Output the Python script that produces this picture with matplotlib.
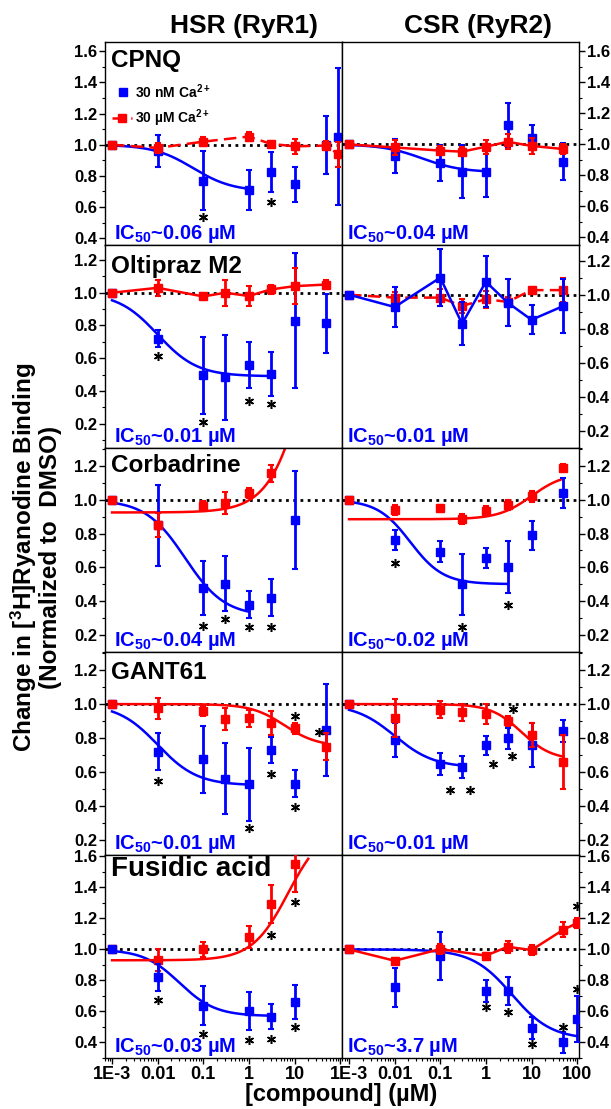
import numpy as np
import matplotlib
matplotlib.use('Agg')
import matplotlib.pyplot as plt
from matplotlib.ticker import LogLocator, FixedLocator, MultipleLocator, NullFormatter, FixedFormatter

plt.rcParams['font.family'] = ['Liberation Sans', 'DejaVu Sans']
plt.rcParams['font.weight'] = 'bold'
plt.rcParams['mathtext.fontset'] = 'custom'
plt.rcParams['mathtext.rm'] = 'Liberation Sans:bold'
plt.rcParams['mathtext.bf'] = 'Liberation Sans:bold'
plt.rcParams['mathtext.it'] = 'Liberation Sans:bold'
plt.rcParams['mathtext.default'] = 'rm'

BLUE = '#0000ff'
RED = '#ff0000'

# ---- data: [compound] (uM), normalized binding, error ----
# CPNQ
cpnq_hsr_x = [0.001, 0.01, 0.1, 1, 3, 10, 50, 90]
cpnq_hsr_blue = [1.0, 0.96, 0.77, 0.71, 0.825, 0.745, 1.0, 1.05]
cpnq_hsr_blue_err = [0, 0.10, 0.19, 0.13, 0.13, 0.11, 0.185, 0.44]
cpnq_hsr_red = [1.0, 0.98, 1.02, 1.053, 1.006, 0.99, 0.995, 0.94]
cpnq_hsr_red_err = [0, 0.03, 0.03, 0.03, 0.02, 0.05, 0.03, 0.08]

cpnq_csr_x = [0.001, 0.01, 0.1, 0.3, 1, 3, 10, 50]
cpnq_csr_blue = [1.0, 0.925, 0.88, 0.823, 0.823, 1.125, 1.043, 0.888]
cpnq_csr_blue_err = [0, 0.11, 0.115, 0.17, 0.16, 0.14, 0.08, 0.12]
cpnq_csr_red = [1.0, 0.98, 0.96, 0.953, 0.985, 1.017, 0.99, 0.97]
cpnq_csr_red_err = [0, 0.05, 0.03, 0.03, 0.045, 0.05, 0.05, 0.03]

# Oltipraz M2
olt_x = [0.001, 0.01, 0.1, 0.3, 1, 3, 10, 50]
olt_hsr_blue = [1.0, 0.72, 0.495, 0.485, 0.56, 0.505, 0.83, 0.815]
olt_hsr_blue_err = [0, 0.05, 0.235, 0.26, 0.14, 0.135, 0.41, 0.18]
olt_hsr_red = [1.0, 1.03, 0.977, 1.0, 0.98, 1.02, 1.04, 1.05]
olt_hsr_red_err = [0, 0.05, 0.02, 0.08, 0.06, 0.03, 0.11, 0.03]

olt_csr_blue = [1.0, 0.928, 1.10, 0.83, 1.076, 0.954, 0.853, 0.934]
olt_csr_blue_err = [0, 0.115, 0.165, 0.125, 0.15, 0.14, 0.085, 0.16]
olt_csr_red = [1.0, 0.983, 0.983, 0.934, 0.974, 0.958, 1.027, 1.027]
olt_csr_red_err = [0, 0.03, 0.05, 0.04, 0.05, 0.03, 0.02, 0.07]

# Corbadrine
corb_hsr_blue_x = [0.001, 0.01, 0.1, 0.3, 1, 3, 10]
corb_hsr_blue = [1.0, 0.85, 0.48, 0.503, 0.377, 0.42, 0.882]
corb_hsr_blue_err = [0, 0.24, 0.16, 0.165, 0.08, 0.11, 0.29]
corb_hsr_red_x = [0.001, 0.01, 0.1, 0.3, 1, 3]
corb_hsr_red = [1.0, 0.85, 0.965, 0.98, 1.043, 1.157]
corb_hsr_red_err = [0, 0.07, 0.03, 0.065, 0.03, 0.05]

corb_csr_x = [0.001, 0.01, 0.1, 0.3, 1, 3, 10, 50]
corb_csr_blue = [1.0, 0.76, 0.693, 0.5, 0.657, 0.6, 0.79, 1.04]
corb_csr_blue_err = [0, 0.06, 0.06, 0.18, 0.06, 0.155, 0.085, 0.09]
corb_csr_red = [1.0, 0.94, 0.95, 0.885, 0.933, 0.97, 1.02, 1.19]
corb_csr_red_err = [0, 0.03, 0.02, 0.03, 0.03, 0.03, 0.03, 0.02]

# GANT61
gant_x = [0.001, 0.01, 0.1, 0.3, 1, 3, 10, 50]
gant_hsr_blue = [1.0, 0.718, 0.673, 0.56, 0.527, 0.728, 0.531, 0.846]
gant_hsr_blue_err = [0, 0.11, 0.2, 0.21, 0.215, 0.075, 0.08, 0.27]
gant_hsr_red = [1.0, 0.974, 0.96, 0.91, 0.915, 0.89, 0.856, 0.748]
gant_hsr_red_err = [0, 0.06, 0.03, 0.065, 0.05, 0.07, 0.03, 0.08]

gant_csr_blue = [1.0, 0.79, 0.645, 0.63, 0.756, 0.797, 0.756, 0.84]
gant_csr_blue_err = [0, 0.1, 0.065, 0.065, 0.055, 0.06, 0.13, 0.065]
gant_csr_red = [1.0, 0.918, 0.967, 0.953, 0.943, 0.899, 0.817, 0.658]
gant_csr_red_err = [0, 0.11, 0.05, 0.05, 0.06, 0.03, 0.07, 0.16]

# Fusidic acid
fus_hsr_x = [0.001, 0.01, 0.1, 1, 3, 10]
fus_hsr_blue = [1.0, 0.819, 0.637, 0.603, 0.567, 0.659]
fus_hsr_blue_err = [0, 0.085, 0.127, 0.12, 0.078, 0.11]
fus_hsr_red = [1.0, 0.934, 1.0, 1.08, 1.293, 1.55]
fus_hsr_red_err = [0, 0.07, 0.05, 0.07, 0.125, 0.18]

fus_csr_x = [0.001, 0.01, 0.1, 1, 3, 10, 50, 100]
fus_csr_blue = [1.0, 0.755, 0.96, 0.733, 0.729, 0.492, 0.4, 0.55]
fus_csr_blue_err = [0, 0.125, 0.155, 0.07, 0.09, 0.07, 0.065, 0.15]
fus_csr_red = [1.0, 0.927, 1.002, 0.96, 1.017, 0.996, 1.127, 1.17]
fus_csr_red_err = [0, 0.02, 0.03, 0.02, 0.04, 0.03, 0.05, 0.03]

# Hill fits: (low-dose level, high-dose level, IC50/EC50, hill, x from, x to)
fit_cpnq_hsr_blue = (1.0, 0.70, 0.06, 1.0, 0.001, 1)
fit_cpnq_csr_blue = (1.0, 0.82, 0.04, 1.0, 0.001, 1)
fit_olt_hsr_blue = (1.0, 0.49, 0.01, 1.0, 0.001, 3)
fit_corb_hsr_blue = (1.0, 0.31, 0.04, 1.0, 0.001, 1)
fit_corb_hsr_red = (0.925, 3.0, 27.7, 1.0, 0.001, 20)
fit_corb_csr_blue = (1.0, 0.50, 0.022, 1.2, 0.001, 3)
fit_corb_csr_red = (0.885, 1.16, 10, 1.2, 0.001, 50)
fit_gant_hsr_blue = (1.0, 0.52, 0.01, 1.0, 0.001, 1)
fit_gant_hsr_red = (1.0, 0.75, 6, 1.2, 0.001, 50)
fit_gant_csr_blue = (1.0, 0.625, 0.01, 1.0, 0.001, 0.3)
fit_gant_csr_red = (1.0, 0.67, 6, 1.3, 0.001, 50)
fit_fus_hsr_blue = (1.0, 0.57, 0.03, 1.1, 0.001, 3)
fit_fus_hsr_red = (0.93, 1.8, 7.3, 1.1, 0.001, 20)
fit_fus_csr_blue = (1.0, 0.42, 3.7, 1.0, 0.001, 100)

# significance asterisks (x, y)
stars_cpnq_hsr = [(0.1, 0.535), (3, 0.63)]
stars_olt_hsr = [(0.01, 0.614), (0.1, 0.214), (1, 0.342), (3, 0.323)]
stars_corb_hsr = [(0.1, 0.253), (0.3, 0.292), (1, 0.247), (3, 0.247)]
stars_corb_csr = [(0.01, 0.628), (0.3, 0.247), (3, 0.376)]
stars_gant_hsr = [(0.01, 0.545), (1, 0.271), (3, 0.59), (10, 0.393), (10, 0.931), (34, 0.836)]
stars_gant_csr = [(0.16, 0.493), (0.45, 0.493), (1.46, 0.645), (3.7, 0.694), (3.9, 0.973)]
stars_fus_hsr = [(0.01, 0.673), (0.1, 0.456), (1, 0.417), (3, 0.421), (10, 0.503), (10, 1.304), (3, 1.09)]
stars_fus_csr = [(1, 0.626), (3, 0.594), (10, 0.389), (50, 0.497), (100, 0.744), (100, 1.282)]

compounds = ['CPNQ', 'Oltipraz M2', 'Corbadrine', 'GANT61', 'Fusidic acid']
ic50_hsr = ['0.06', '0.01', '0.04', '0.01', '0.03']
ic50_csr = ['0.04', '0.01', '0.02', '0.01', '3.7']


def hill(x, y0, y1, k, n):
    return y1 + (y0 - y1) / (1 + (x / k) ** n)


def draw(ax, bx, by, be, rx, ry, re, b_ls='none', r_ls='none',
         b_fit=None, r_fit=None, stars=(), blue_top=False):
    ax.axhline(1.0, color='k', ls=(0, (1, 1.6)), lw=2, zorder=1)
    for fit, c in ((b_fit, BLUE), (r_fit, RED)):
        if fit is not None:
            xs = np.logspace(np.log10(fit[4]), np.log10(fit[5]), 300)
            ax.plot(xs, hill(xs, *fit[:4]), color=c, lw=1.8, zorder=2)
    zb, zr = (4, 3) if blue_top else (3, 4)
    ax.errorbar(bx, by, yerr=be, color=BLUE, marker='s', ms=6, ls=b_ls, lw=1.8,
                elinewidth=2, capsize=2, capthick=1.5, zorder=zb)
    ax.errorbar(rx, ry, yerr=re, color=RED, marker='s', ms=6, ls=r_ls, lw=1.8,
                elinewidth=2, capsize=2, capthick=1.5, zorder=zr)
    for sx, sy in stars:
        ax.plot(sx, sy, ls='none', marker=(6, 2, 0), ms=6.5, mew=1.1, color='k', zorder=5)


fig, axes = plt.subplots(5, 2, figsize=(6.11, 11.09), dpi=100)
fig.subplots_adjust(left=105 / 611, right=579 / 611, top=1 - 42 / 1109,
                    bottom=1 - 1058 / 1109, hspace=0, wspace=0)

dash = (0, (5, 2.5))
draw(axes[0, 0], cpnq_hsr_x, cpnq_hsr_blue, cpnq_hsr_blue_err, cpnq_hsr_x, cpnq_hsr_red,
     cpnq_hsr_red_err, r_ls=dash, b_fit=fit_cpnq_hsr_blue, stars=stars_cpnq_hsr)
draw(axes[0, 1], cpnq_csr_x, cpnq_csr_blue, cpnq_csr_blue_err, cpnq_csr_x, cpnq_csr_red,
     cpnq_csr_red_err, r_ls='-', b_fit=fit_cpnq_csr_blue)
draw(axes[1, 0], olt_x, olt_hsr_blue, olt_hsr_blue_err, olt_x, olt_hsr_red,
     olt_hsr_red_err, r_ls='-', b_fit=fit_olt_hsr_blue, stars=stars_olt_hsr)
draw(axes[1, 1], olt_x, olt_csr_blue, olt_csr_blue_err, olt_x, olt_csr_red,
     olt_csr_red_err, b_ls='-', r_ls=dash, blue_top=True)
draw(axes[2, 0], corb_hsr_blue_x, corb_hsr_blue, corb_hsr_blue_err, corb_hsr_red_x,
     corb_hsr_red, corb_hsr_red_err, b_fit=fit_corb_hsr_blue, r_fit=fit_corb_hsr_red,
     stars=stars_corb_hsr)
draw(axes[2, 1], corb_csr_x, corb_csr_blue, corb_csr_blue_err, corb_csr_x, corb_csr_red,
     corb_csr_red_err, b_fit=fit_corb_csr_blue, r_fit=fit_corb_csr_red, stars=stars_corb_csr)
draw(axes[3, 0], gant_x, gant_hsr_blue, gant_hsr_blue_err, gant_x, gant_hsr_red,
     gant_hsr_red_err, b_fit=fit_gant_hsr_blue, r_fit=fit_gant_hsr_red, stars=stars_gant_hsr)
draw(axes[3, 1], gant_x, gant_csr_blue, gant_csr_blue_err, gant_x, gant_csr_red,
     gant_csr_red_err, b_fit=fit_gant_csr_blue, r_fit=fit_gant_csr_red, stars=stars_gant_csr)
draw(axes[4, 0], fus_hsr_x, fus_hsr_blue, fus_hsr_blue_err, fus_hsr_x, fus_hsr_red,
     fus_hsr_red_err, b_fit=fit_fus_hsr_blue, r_fit=fit_fus_hsr_red, stars=stars_fus_hsr,
     blue_top=True)
draw(axes[4, 1], fus_csr_x, fus_csr_blue, fus_csr_blue_err, fus_csr_x, fus_csr_red,
     fus_csr_red_err, r_ls='-', b_fit=fit_fus_csr_blue, stars=stars_fus_csr)

ylims = [[(0.355, 1.66), (0.35, 1.66)],
         [(0.05, 1.29), (0.1, 1.29)],
         [(0.1, 1.305), (0.1, 1.305)],
         [(0.11, 1.31), (0.11, 1.31)],
         [(0.3, 1.61), (0.3, 1.61)]]
yticks = [np.arange(0.4, 1.61, 0.2), np.arange(0.2, 1.21, 0.2), np.arange(0.2, 1.21, 0.2),
          np.arange(0.2, 1.21, 0.2), np.arange(0.4, 1.61, 0.2)]
name_y = [0.965, 0.95, 0.97, 0.955, 0.995]
name_size = [17.5, 17.5, 17.5, 17.5, 20]
xt = [1e-3, 1e-2, 1e-1, 1, 10, 100]

for r in range(5):
    for c in range(2):
        ax = axes[r, c]
        ax.set_xscale('log')
        ax.set_xlim(7e-4, 110)
        ax.set_ylim(*ylims[r][c])
        ax.yaxis.set_major_locator(FixedLocator(yticks[r]))
        ax.set_yticklabels(['%.1f' % v for v in yticks[r]])
        ax.yaxis.set_minor_locator(MultipleLocator(0.1))
        ax.tick_params(which='major', direction='out', length=4, width=1, labelsize=12, pad=1.5)
        ax.tick_params(which='minor', direction='out', length=2.5, width=0.8)
        if c == 1:
            ax.yaxis.tick_right()
        for s in ax.spines.values():
            s.set_linewidth(1)
        ax.xaxis.set_major_locator(FixedLocator(xt))
        ax.xaxis.set_minor_locator(LogLocator(base=10, subs=np.arange(2, 10), numticks=10))
        ax.xaxis.set_minor_formatter(NullFormatter())
        if r < 4:
            ax.xaxis.set_major_formatter(NullFormatter())
        else:
            labels = ['1E-3', '0.01', '0.1', '1', '10', '' if c == 0 else '100']
            ax.xaxis.set_major_formatter(FixedFormatter(labels))
            ax.tick_params(axis='x', labelsize=13)
        ic = ic50_hsr[r] if c == 0 else ic50_csr[r]
        ax.text(0.04 if c == 0 else 0.02, 0.03, 'IC$_{50}$~' + ic + ' µM', color=BLUE,
                fontsize=14.5, transform=ax.transAxes, ha='left', va='baseline')
    axes[r, 0].text(0.025, name_y[r], compounds[r], transform=axes[r, 0].transAxes,
                    fontsize=name_size[r], ha='left', va='top')

# legend in the CPNQ / HSR panel
lax = axes[0, 0]
lax.plot([0.076], [0.754], transform=lax.transAxes, marker='s', ms=6, color=BLUE, ls='none')
lax.text(0.126, 0.754, '30 nM Ca$^{2+}$', transform=lax.transAxes, fontsize=10, va='center')
lax.plot([0.03, 0.113], [0.626, 0.626], transform=lax.transAxes, color=RED, ls=dash, lw=1.8)
lax.plot([0.072], [0.626], transform=lax.transAxes, marker='s', ms=6, color=RED, ls='none')
lax.text(0.126, 0.626, '30 µM Ca$^{2+}$', transform=lax.transAxes, fontsize=10, va='center')

fig.text(244 / 611, 1 - 26 / 1109, 'HSR (RyR1)', fontsize=19, ha='center', va='center')
fig.text(478 / 611, 1 - 26 / 1109, 'CSR (RyR2)', fontsize=19, ha='center', va='center')
fig.text(341 / 611, 1 - 1094 / 1109, '[compound] (µM)', fontsize=17, ha='center', va='center')
fig.text(35 / 611, 1 - 557 / 1109,
         'Change in [$^{3}$H]Ryanodine Binding\n(Normalized to  DMSO)',
         fontsize=17.5, rotation=90, ha='center', va='center', multialignment='center',
         linespacing=1.0)

fig.savefig('out.png', dpi=100)
